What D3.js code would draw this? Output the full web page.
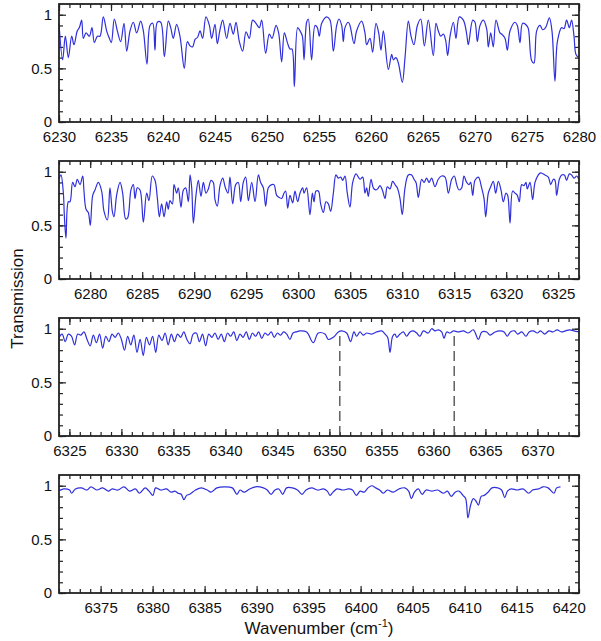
<!DOCTYPE html>
<html>
<head>
<meta charset="utf-8">
<script src="https://cdn.jsdelivr.net/npm/d3@7"></script>
<style>
  html, body { margin: 0; padding: 0; background: #fff; }
  svg { display: block; font-family: "Liberation Sans", Arial, sans-serif; }
</style>
</head>
<body>
<svg id="chart" width="601" height="641"></svg>
<script>
// ---------------- data ----------------
const p1Wn = [6230.00,6230.35,6230.61,6230.90,6231.22,6231.44,6231.76,6231.96,6232.18,6232.34,6232.60,6232.92,6233.17,6233.40,6233.69,6233.94,6234.26,6234.58,6234.84,6235.03,6235.32,6235.61,6235.93,6236.25,6236.51,6236.83,6237.15,6237.47,6237.85,6238.11,6238.46,6238.75,6239.01,6239.23,6239.46,6239.78,6240.13,6240.51,6240.74,6240.99,6241.31,6241.63,6242.05,6242.34,6242.60,6242.85,6243.08,6243.33,6243.56,6243.81,6244.13,6244.46,6244.68,6245.00,6245.22,6245.48,6245.74,6246.12,6246.44,6246.76,6247.02,6247.34,6247.66,6247.98,6248.30,6248.62,6248.94,6249.26,6249.49,6249.87,6250.22,6250.48,6250.87,6251.12,6251.41,6251.67,6251.96,6252.21,6252.40,6252.63,6252.95,6253.17,6253.40,6253.56,6253.81,6253.97,6254.29,6254.62,6254.84,6255.03,6255.26,6255.74,6256.06,6256.38,6256.70,6256.92,6257.18,6257.34,6257.50,6257.82,6257.98,6258.37,6258.62,6259.10,6259.42,6259.58,6259.90,6260.16,6260.48,6260.74,6260.96,6261.19,6261.67,6261.99,6262.15,6262.40,6262.63,6263.01,6263.27,6263.59,6263.85,6264.13,6264.46,6264.78,6265.13,6265.51,6265.99,6266.25,6266.47,6266.70,6266.96,6267.18,6267.37,6267.60,6267.92,6268.17,6268.49,6268.88,6269.20,6269.36,6269.78,6270.00,6270.22,6270.48,6270.80,6271.12,6271.28,6271.51,6271.76,6272.02,6272.40,6272.56,6272.88,6273.11,6273.37,6273.85,6274.07,6274.33,6274.58,6274.97,6275.13,6275.45,6275.67,6275.93,6276.25,6276.51,6276.79,6277.15,6277.40,6277.69,6277.92,6278.33,6278.56,6278.81,6279.07,6279.29,6279.52,6279.71,6279.97];
const p1T = [0.92,0.58,0.80,0.60,0.80,0.72,0.85,0.88,0.95,0.78,0.83,0.80,0.88,0.74,0.80,0.80,0.98,0.85,0.78,0.74,0.96,0.85,0.75,0.92,0.66,0.85,0.93,0.83,0.94,0.85,0.54,0.90,0.92,0.67,0.93,0.93,0.61,0.94,0.88,0.78,0.91,0.80,0.50,0.75,0.71,0.70,0.77,0.79,0.85,0.78,0.98,0.90,0.78,0.91,0.73,0.86,0.95,0.78,0.92,0.82,0.93,0.75,0.66,0.84,0.78,0.95,0.92,0.88,0.95,0.64,0.82,0.78,0.90,0.83,0.56,0.83,0.74,0.68,0.68,0.33,0.88,0.85,0.80,0.58,0.93,0.96,0.58,0.90,0.88,0.80,0.92,0.98,0.95,0.66,0.90,0.96,0.90,0.75,0.88,0.93,0.90,0.73,0.85,0.94,0.83,0.72,0.78,0.65,0.92,0.83,0.67,0.85,0.49,0.63,0.58,0.60,0.55,0.37,0.60,0.94,0.80,0.72,0.90,0.96,0.71,0.95,0.62,0.92,0.85,0.80,0.82,0.76,0.62,0.80,0.93,0.78,0.98,0.95,0.82,0.72,0.95,0.93,0.75,0.90,0.95,0.87,0.70,0.83,0.70,0.95,0.83,0.82,0.78,0.67,0.85,0.93,0.90,0.74,0.92,0.90,0.87,0.57,0.55,0.85,0.90,0.86,0.88,0.97,0.85,0.38,0.75,0.88,0.87,0.95,0.88,0.95,0.80,0.63,0.60];

const p2Wn = [6277.00,6277.19,6277.42,6277.51,6277.67,6277.90,6278.06,6278.31,6278.54,6278.76,6279.02,6279.28,6279.40,6279.60,6279.82,6280.01,6280.24,6280.46,6280.78,6281.10,6281.33,6281.65,6281.90,6282.13,6282.29,6282.54,6282.87,6283.12,6283.41,6283.60,6283.92,6284.15,6284.31,6284.53,6284.79,6285.11,6285.43,6285.65,6285.97,6286.23,6286.46,6286.65,6286.87,6287.10,6287.35,6287.51,6287.67,6287.90,6288.06,6288.31,6288.47,6288.73,6288.96,6289.18,6289.44,6289.60,6289.76,6289.92,6290.17,6290.40,6290.65,6290.88,6291.13,6291.36,6291.62,6291.84,6292.00,6292.22,6292.48,6292.74,6293.00,6293.25,6293.44,6293.70,6293.99,6294.24,6294.47,6294.72,6294.95,6295.21,6295.53,6295.85,6296.17,6296.39,6296.65,6296.87,6297.13,6297.45,6297.67,6297.93,6298.19,6298.41,6298.63,6298.79,6298.99,6299.21,6299.47,6299.69,6299.95,6300.17,6300.43,6300.56,6300.81,6301.13,6301.36,6301.52,6301.71,6301.94,6302.16,6302.42,6302.67,6302.90,6303.12,6303.38,6303.63,6303.86,6304.08,6304.28,6304.50,6304.72,6304.98,6305.24,6305.56,6305.94,6306.20,6306.42,6306.58,6306.74,6307.00,6307.22,6307.45,6307.64,6307.87,6308.09,6308.35,6308.57,6308.83,6309.08,6309.31,6309.53,6309.79,6310.01,6310.27,6310.59,6310.91,6311.13,6311.33,6311.55,6311.87,6312.10,6312.35,6312.58,6312.83,6313.15,6313.47,6313.79,6314.12,6314.44,6314.76,6315.01,6315.24,6315.46,6315.72,6315.94,6316.20,6316.42,6316.58,6316.78,6317.00,6317.32,6317.64,6317.87,6318.03,6318.28,6318.51,6318.76,6318.99,6319.24,6319.50,6319.72,6319.98,6320.14,6320.37,6320.62,6320.85,6321.07,6321.26,6321.49,6321.71,6321.90,6322.03,6322.29,6322.54,6322.77,6323.09,6323.31,6323.73,6324.05,6324.28,6324.53,6324.69,6324.85,6325.11,6325.33,6325.59,6325.81,6326.07,6326.29,6326.52,6326.78,6326.97];
const p2T = [0.93,0.97,0.80,0.60,0.38,0.72,0.72,0.90,0.86,0.93,0.88,0.96,0.82,0.65,0.62,0.50,0.78,0.83,0.90,0.82,0.63,0.55,0.85,0.63,0.58,0.78,0.90,0.80,0.56,0.57,0.83,0.88,0.75,0.85,0.83,0.53,0.80,0.73,0.96,0.92,0.75,0.58,0.70,0.58,0.72,0.65,0.73,0.70,0.88,0.80,0.85,0.67,0.83,0.85,0.72,0.97,0.85,0.52,0.78,0.92,0.77,0.90,0.80,0.84,0.92,0.90,0.74,0.68,0.87,0.94,0.85,0.80,0.95,0.70,0.88,0.90,0.72,0.90,0.95,0.73,0.90,0.72,0.97,0.90,0.85,0.68,0.85,0.88,0.88,0.78,0.76,0.75,0.80,0.82,0.66,0.78,0.71,0.82,0.72,0.80,0.85,0.80,0.85,0.60,0.80,0.72,0.82,0.82,0.70,0.62,0.72,0.70,0.63,0.80,0.97,0.94,0.95,0.92,0.96,0.80,0.67,0.90,0.98,0.93,0.95,0.80,0.85,0.77,0.93,0.85,0.83,0.84,0.87,0.83,0.75,0.86,0.84,0.91,0.88,0.85,0.75,0.60,0.85,0.97,0.97,0.93,0.90,0.76,0.93,0.90,0.94,0.90,0.94,0.86,0.93,0.96,0.95,0.80,0.93,0.96,0.88,0.83,0.85,0.96,0.90,0.88,0.90,0.78,0.92,0.95,0.85,0.75,0.58,0.80,0.86,0.91,0.80,0.91,0.83,0.72,0.80,0.78,0.52,0.82,0.80,0.78,0.72,0.88,0.87,0.90,0.84,0.90,0.74,0.90,0.97,0.99,0.97,0.95,0.88,0.93,0.92,0.78,0.93,0.97,0.97,0.92,0.98,0.97,0.94,0.96,0.93];

const p3Wn = [6324.0,6324.3,6324.6,6324.9,6325.2,6325.5,6325.8,6326.1,6326.4,6326.7,6327.0,6327.3,6327.6,6327.9,6328.2,6328.5,6328.8,6329.1,6329.4,6329.7,6330.0,6330.3,6330.6,6330.9,6331.2,6331.5,6331.8,6332.1,6332.4,6332.7,6333.0,6333.3,6333.6,6333.9,6334.2,6334.5,6334.8,6335.1,6335.4,6335.7,6336.0,6336.3,6336.6,6336.9,6337.2,6337.5,6337.8,6338.1,6338.4,6338.7,6339.0,6339.3,6339.6,6339.9,6340.2,6340.5,6340.8,6341.1,6341.4,6341.7,6342.0,6342.3,6342.6,6342.9,6343.2,6343.5,6343.8,6344.1,6344.4,6344.7,6345.0,6345.3,6345.6,6345.9,6346.2,6346.5,6346.8,6347.17,6347.81,6348.45,6348.93,6349.57,6349.90,6350.38,6350.86,6351.18,6351.66,6352.04,6352.36,6352.62,6352.94,6353.26,6353.58,6354.06,6354.54,6355.03,6355.35,6355.60,6355.83,6356.08,6356.31,6356.47,6356.79,6357.11,6357.43,6357.75,6358.07,6358.39,6358.71,6359.03,6359.51,6359.83,6360.16,6360.48,6360.80,6361.02,6361.28,6361.60,6361.92,6362.40,6362.88,6363.36,6363.84,6364.33,6364.65,6365.13,6365.45,6365.93,6366.41,6366.8,6367.1,6367.4,6367.8,6368.1,6368.5,6368.9,6369.2,6369.6,6370.0,6370.3,6370.7,6371.1,6371.5,6371.9,6372.3,6372.7,6373.1,6373.5,6374.0];
const p3T = [0.92,0.95,0.88,0.95,0.93,0.85,0.95,0.94,0.97,0.90,0.84,0.94,0.87,0.95,0.82,0.93,0.88,0.95,0.92,0.96,0.90,0.80,0.93,0.85,0.94,0.78,0.90,0.75,0.92,0.85,0.93,0.78,0.94,0.89,0.96,0.85,0.95,0.88,0.95,0.92,0.97,0.90,0.86,0.95,0.96,0.88,0.95,0.84,0.95,0.92,0.96,0.90,0.95,0.88,0.96,0.93,0.97,0.89,0.95,0.92,0.97,0.90,0.96,0.93,0.97,0.91,0.96,0.94,0.97,0.92,0.96,0.94,0.97,0.95,0.90,0.96,0.97,0.98,0.97,0.87,0.96,0.95,0.90,0.92,0.97,0.98,0.96,0.88,0.97,0.93,0.97,0.94,0.96,0.95,0.97,0.98,0.95,0.92,0.78,0.93,0.95,0.92,0.95,0.97,0.93,0.97,0.98,0.96,0.93,0.98,0.96,1.00,0.98,0.99,0.97,0.91,0.97,0.96,0.98,0.97,0.98,0.96,0.99,0.90,0.97,0.97,0.94,0.97,0.98,0.97,0.93,0.97,0.98,0.95,0.97,0.93,0.97,0.98,0.96,0.98,0.95,0.98,0.97,0.99,0.97,0.98,0.99,0.98,0.97];

const p4Wn = [6371.00,6371.09,6371.46,6372.02,6372.21,6372.58,6373.14,6373.70,6374.07,6374.63,6375.19,6375.75,6376.12,6376.68,6377.24,6377.79,6378.35,6378.73,6379.28,6379.66,6380.03,6380.29,6380.77,6381.33,6381.78,6382.15,6382.45,6382.75,6383.01,6383.27,6383.57,6384.13,6384.69,6385.25,6385.62,6386.18,6386.92,6387.67,6388.11,6388.41,6388.79,6389.34,6389.90,6390.65,6391.02,6391.39,6391.77,6392.14,6392.51,6392.88,6393.44,6393.93,6394.37,6394.75,6395.31,6395.86,6396.42,6396.80,6397.06,6397.35,6397.73,6398.29,6398.85,6399.22,6399.59,6399.96,6400.34,6400.71,6401.08,6401.45,6401.83,6402.20,6402.57,6403.13,6403.69,6404.25,6404.62,6404.88,6405.18,6405.55,6405.92,6406.30,6406.86,6407.41,6407.97,6408.35,6408.72,6409.09,6409.46,6409.84,6410.10,6410.32,6410.58,6410.84,6411.07,6411.33,6411.59,6411.89,6412.26,6412.63,6413.19,6413.56,6413.86,6414.12,6414.49,6415.05,6415.61,6416.17,6416.54,6417.10,6417.55,6418.03,6418.59,6418.85,6419.22];
const p4T = [0.97,0.96,0.97,0.96,0.93,0.97,0.98,0.96,0.99,0.96,0.98,0.95,0.97,0.96,0.99,0.95,0.97,0.93,0.98,0.95,0.91,0.98,0.96,0.97,0.94,0.95,0.93,0.92,0.87,0.91,0.92,0.96,0.98,0.96,0.94,0.98,0.99,0.98,0.92,0.96,0.94,0.97,0.99,0.98,0.96,0.92,0.96,0.97,0.92,0.98,0.98,0.96,0.92,0.96,0.98,0.96,0.97,0.95,0.91,0.94,0.97,0.96,0.97,0.96,0.91,0.95,0.94,0.98,1.00,0.98,0.96,0.93,0.96,0.94,0.97,0.98,0.95,0.88,0.94,0.97,0.92,0.96,0.95,0.96,0.93,0.95,0.90,0.94,0.95,0.91,0.88,0.70,0.82,0.88,0.86,0.82,0.90,0.91,0.94,0.98,0.98,0.96,0.89,0.95,0.97,0.96,0.97,0.93,0.96,0.97,0.99,0.98,0.93,0.98,0.99];

const domains = [[6230, 6280], [6277, 6327], [6324, 6374], [6371, 6421]];
const p1Ticks = [6230, 6235, 6240, 6245, 6250, 6255, 6260, 6265, 6270, 6275, 6280];
const p2Ticks = [6280, 6285, 6290, 6295, 6300, 6305, 6310, 6315, 6320, 6325];
const p3Ticks = [6325, 6330, 6335, 6340, 6345, 6350, 6355, 6360, 6365, 6370];
const p4Ticks = [6375, 6380, 6385, 6390, 6395, 6400, 6405, 6410, 6415, 6420];
const yTicks = [0, 0.5, 1];
const yTickLabels = ["0", "0.5", "1"];
const markerWn = [6351, 6362];   // dashed markers in panel 3
const markerTop = 0.97;
const yLabel = "Transmission";
const xLabel = "Wavenumber (cm";

// ---------------- layout ----------------
const svg = d3.select("#chart");
const left = 59, width = 520, panelH = 118, firstTop = 4, step = 157;
const lineColor = "#2f2fdc";

const panels = [
  {wn: p1Wn, tr: p1T, ticks: p1Ticks},
  {wn: p2Wn, tr: p2T, ticks: p2Ticks},
  {wn: p3Wn, tr: p3T, ticks: p3Ticks, markers: markerWn},
  {wn: p4Wn, tr: p4T, ticks: p4Ticks}
];

panels.forEach((p, i) => {
  const top = firstTop + i * step;
  const g = svg.append("g").attr("transform", `translate(${left},${top})`);
  const x = d3.scaleLinear().domain(domains[i]).range([0, width]);
  const y = d3.scaleLinear().domain([0, 1.1]).range([panelH, 0]);

  const minorX = d3.range(Math.ceil(domains[i][0]), Math.floor(domains[i][1]) + 1);
  const minorY = d3.range(0, 11).map(v => v / 10);

  // minor ticks (no labels)
  g.append("g").attr("transform", `translate(0,${panelH})`)
    .call(d3.axisBottom(x).tickValues(minorX).tickSize(-4).tickFormat(""))
    .call(s => s.select(".domain").remove());
  g.append("g")
    .call(d3.axisTop(x).tickValues(minorX).tickSize(-4).tickFormat(""))
    .call(s => s.select(".domain").remove());
  g.append("g")
    .call(d3.axisLeft(y).tickValues(minorY).tickSize(-4).tickFormat(""))
    .call(s => s.select(".domain").remove());
  g.append("g").attr("transform", `translate(${width},0)`)
    .call(d3.axisRight(y).tickValues(minorY).tickSize(-4).tickFormat(""))
    .call(s => s.select(".domain").remove());

  // major ticks with labels
  g.append("g").attr("transform", `translate(0,${panelH})`)
    .call(d3.axisBottom(x).tickValues(p.ticks).tickSize(-7).tickPadding(9).tickFormat(d3.format("d")))
    .call(s => s.select(".domain").remove())
    .call(s => s.selectAll("text").attr("font-size", 15).attr("fill", "#111"));
  g.append("g")
    .call(d3.axisTop(x).tickValues(p.ticks).tickSize(-7).tickFormat(""))
    .call(s => s.select(".domain").remove());
  g.append("g")
    .call(d3.axisLeft(y).tickValues(yTicks).tickSize(-7).tickPadding(7)
      .tickFormat((d, k) => yTickLabels[k]))
    .call(s => s.select(".domain").remove())
    .call(s => s.selectAll("text").attr("font-size", 15).attr("fill", "#111"));
  g.append("g").attr("transform", `translate(${width},0)`)
    .call(d3.axisRight(y).tickValues(yTicks).tickSize(-7).tickFormat(""))
    .call(s => s.select(".domain").remove());

  g.selectAll(".tick line").attr("stroke", "#222").attr("stroke-width", 1.2);

  // dashed markers
  if (p.markers) {
    g.selectAll(".marker").data(p.markers).enter().append("line")
      .attr("class", "marker")
      .attr("x1", d => x(d)).attr("x2", d => x(d))
      .attr("y1", y(0)).attr("y2", y(markerTop))
      .attr("stroke", "#555").attr("stroke-width", 1.4)
      .attr("stroke-dasharray", "10,5");
  }

  // spectrum
  const data = p.wn.map((w, k) => [w, p.tr[k]]);
  const line = d3.line().x(d => x(d[0])).y(d => y(d[1])).curve(d3.curveCatmullRom.alpha(0.5));
  g.append("path").datum(data)
    .attr("fill", "none").attr("stroke", lineColor).attr("stroke-width", 1.2)
    .attr("stroke-linejoin", "round")
    .attr("d", line);

  // frame
  g.append("rect").attr("x", 0).attr("y", 0).attr("width", width).attr("height", panelH)
    .attr("fill", "none").attr("stroke", "#222").attr("stroke-width", 1.8);
});

// axis titles
svg.append("text")
  .attr("transform", `translate(23,${firstTop + (3 * step + panelH) / 2}) rotate(-90)`)
  .attr("text-anchor", "middle").attr("font-size", 17).attr("fill", "#111")
  .text(yLabel);

const xt = svg.append("text")
  .attr("x", left + width / 2).attr("y", 634)
  .attr("text-anchor", "middle").attr("font-size", 17).attr("fill", "#111");
xt.append("tspan").text(xLabel);
xt.append("tspan").attr("dy", -7).attr("font-size", 11).text("-1");
xt.append("tspan").attr("dy", 7).text(")");
</script>
</body>
</html>
